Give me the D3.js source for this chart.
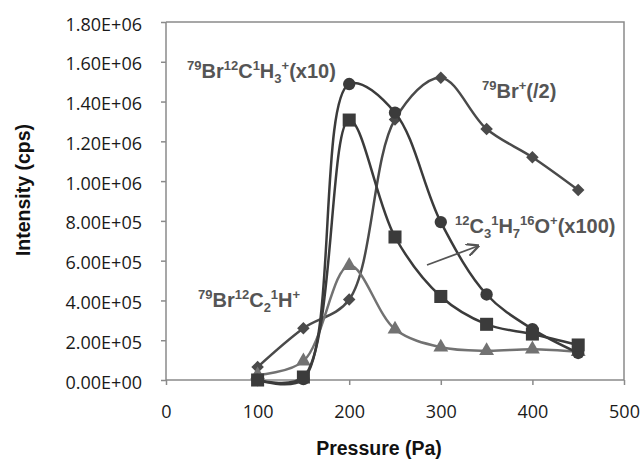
<!DOCTYPE html>
<html>
<head>
<meta charset="utf-8">
<script src="https://cdn.jsdelivr.net/npm/d3@7"></script>
<style>
  body { margin: 0; background: #fff; }
  svg { display: block; }
</style>
</head>
<body>
<div id="chart"></div>
<script>
// values (Pa vs cps)
const pressure = [100, 150, 200, 250, 300, 350, 400, 450];
const c3h7o   = [0, 5e3, 1.488e6, 1.344e6, 7.94e5, 4.3e5, 2.56e5, 1.36e5];     // circles
const brCH3   = [0, 1.5e4, 1.307e6, 7.19e5, 4.2e5, 2.8e5, 2.31e5, 1.76e5];    // squares
const brIon   = [6.5e4, 2.6e5, 4.05e5, 1.31e6, 1.52e6, 1.262e6, 1.12e6, 9.55e5]; // diamonds
const brC2H   = [2.5e4, 9.5e4, 5.75e5, 2.55e5, 1.65e5, 1.47e5, 1.55e5, 1.42e5]; // triangles

const xTicks = [0, 100, 200, 300, 400, 500];
const yTicks = [0, 2e5, 4e5, 6e5, 8e5, 1e6, 1.2e6, 1.4e6, 1.6e6, 1.8e6];

const width = 643, height = 459;
const margin = { top: 22, right: 19, bottom: 79, left: 166 };

const svg = d3.select('#chart').append('svg')
    .attr('width', width)
    .attr('height', height);

const x = d3.scaleLinear().domain([0, 500]).range([margin.left, width - margin.right]);
const y = d3.scaleLinear().domain([0, 1.8e6]).range([height - margin.bottom, margin.top]);

const axisColor = '#8a8a8a';

// frame (top + right)
svg.append('path')
    .attr('d', `M${x(0)},${y(1.8e6)}H${x(500)}V${y(0)}`)
    .attr('fill', 'none')
    .attr('stroke', axisColor)
    .attr('stroke-width', 1.5);

const sci = v => {
    const e = v === 0 ? 0 : Math.floor(Math.log10(v));
    const m = v === 0 ? 0 : v / Math.pow(10, e);
    return m.toFixed(2) + 'E+' + String(e).padStart(2, '0');
};

const yAxis = svg.append('g')
    .attr('transform', `translate(${margin.left},0)`)
    .call(d3.axisLeft(y).tickValues(yTicks).tickFormat(sci).tickSize(5).tickPadding(19));

const xAxis = svg.append('g')
    .attr('transform', `translate(0,${height - margin.bottom})`)
    .call(d3.axisBottom(x).tickValues(xTicks).tickFormat(d3.format('d')).tickSize(5).tickPadding(20));

[xAxis, yAxis].forEach(g => {
    g.select('.domain').attr('stroke', axisColor).attr('stroke-width', 1.5);
    g.selectAll('.tick line').attr('stroke', axisColor).attr('stroke-width', 1.5);
    g.selectAll('.tick text')
        .attr('fill', '#1a1a1a')
        .style('font-family', '"Open Sans", sans-serif')
        .style('font-size', '18px');
});
yAxis.selectAll('.tick text').attr('dy', '0.45em');
yAxis.select('.domain').attr('d', `M0,${y(1.8e6)}V${y(0)}`);
xAxis.select('.domain').attr('d', `M${x(0)},0H${x(500)}`);

// axis titles
svg.append('text')
    .attr('transform', `translate(30,190) rotate(-90)`)
    .attr('text-anchor', 'middle')
    .style('font-family', '"Liberation Sans", Arial, sans-serif')
    .style('font-weight', 'bold')
    .style('font-size', '19.5px')
    .attr('fill', '#111')
    .text('Intensity (cps)');

svg.append('text')
    .attr('x', 379)
    .attr('y', 455)
    .attr('text-anchor', 'middle')
    .style('font-family', '"Liberation Sans", Arial, sans-serif')
    .style('font-weight', 'bold')
    .style('font-size', '19.5px')
    .attr('fill', '#111')
    .text('Pressure (Pa)');

// series
const series = [
    { name: 'brIon', values: brIon, color: '#4a4a4a', marker: 'diamond' },
    { name: 'brC2H', values: brC2H, color: '#727272', marker: 'triangle' },
    { name: 'c3h7o', values: c3h7o, color: '#3b3b3b', marker: 'circle' },
    { name: 'brCH3', values: brCH3, color: '#3b3b3b', marker: 'square' }
];

const symbolOf = {
    diamond: d3.symbol().type(d3.symbolDiamond2).size(100),
    triangle: d3.symbol().type(d3.symbolTriangle).size(95),
    circle: d3.symbol().type(d3.symbolCircle).size(120),
    square: d3.symbol().type(d3.symbolSquare).size(170)
};

const line = d3.line()
    .x(d => x(d.p))
    .y(d => y(d.v))
    .curve(d3.curveCatmullRom.alpha(0.5));

series.forEach(s => {
    const pts = pressure.map((p, i) => ({ p, v: s.values[i] }));
    const g = svg.append('g').attr('class', s.name);
    g.append('path')
        .datum(pts)
        .attr('fill', 'none')
        .attr('stroke', s.color)
        .attr('stroke-width', 2.5)
        .attr('d', line);
    g.selectAll('path.pt')
        .data(pts)
        .enter()
        .append('path')
        .attr('class', 'pt')
        .attr('transform', d => `translate(${x(d.p)},${y(d.v)})`)
        .attr('d', symbolOf[s.marker])
        .attr('fill', s.color);
});

// annotations with super/subscripts
function rich(xPos, yPos, parts) {
    const t = svg.append('text')
        .attr('x', xPos)
        .attr('y', yPos)
        .style('font-family', '"Liberation Sans", Arial, sans-serif')
        .style('font-weight', 'bold')
        .attr('fill', '#555');
    let shift = 0;
    parts.forEach(([str, kind]) => {
        const target = kind === 'sup' ? -8 : kind === 'sub' ? 5 : 0;
        t.append('tspan')
            .attr('dy', target - shift)
            .style('font-size', kind ? '13px' : '20px')
            .text(str);
        shift = target;
    });
    return t;
}

rich(187, 78, [['79', 'sup'], ['Br'], ['12', 'sup'], ['C'], ['1', 'sup'], ['H'], ['3', 'sub'], ['+', 'sup'], ['(x10)']]);
rich(482, 98, [['79', 'sup'], ['Br'], ['+', 'sup'], ['(/2)']]);
rich(455, 233, [['12', 'sup'], ['C'], ['3', 'sub'], ['1', 'sup'], ['H'], ['7', 'sub'], ['16', 'sup'], ['O'], ['+', 'sup'], ['(x100)']]);
rich(198, 307, [['79', 'sup'], ['Br'], ['12', 'sup'], ['C'], ['2', 'sub'], ['1', 'sup'], ['H'], ['+', 'sup']]);

// arrow pointing at the circle curve
svg.append('defs').append('marker')
    .attr('id', 'arrow')
    .attr('viewBox', '0 0 10 10')
    .attr('refX', 9)
    .attr('refY', 5)
    .attr('markerWidth', 7)
    .attr('markerHeight', 7)
    .attr('orient', 'auto')
    .append('path')
    .attr('d', 'M0,0L10,5L0,10')
    .attr('fill', 'none')
    .attr('stroke', '#555')
    .attr('stroke-width', 1.8);

svg.append('line')
    .attr('x1', 427).attr('y1', 265)
    .attr('x2', 478).attr('y2', 246)
    .attr('stroke', '#555')
    .attr('stroke-width', 1.8)
    .attr('marker-end', 'url(#arrow)');
</script>
</body>
</html>
